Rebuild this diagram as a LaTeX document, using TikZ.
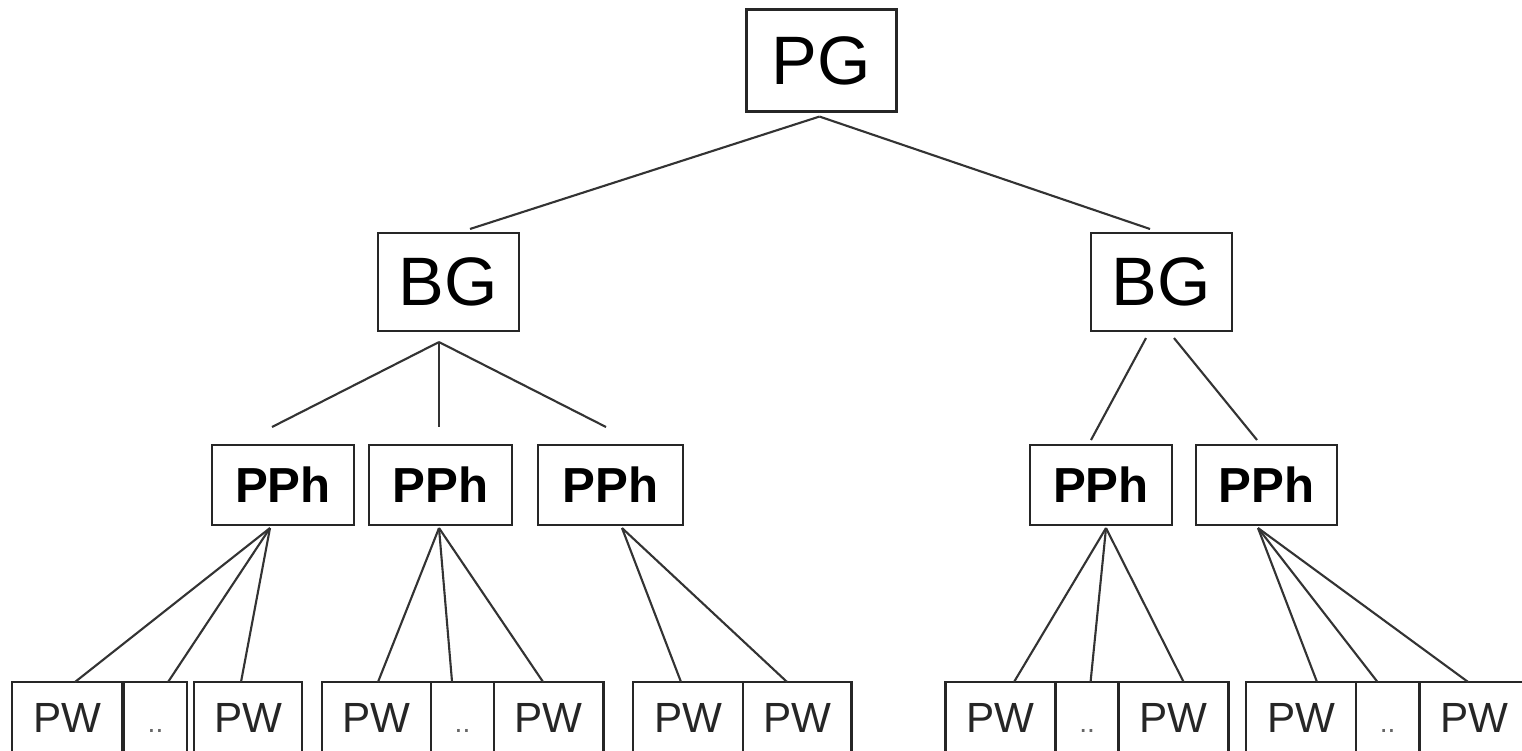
\documentclass[tikz,border=0pt]{standalone}
\usepackage{fontspec}
\setsansfont{Liberation Sans}
\usetikzlibrary{positioning}
\usetikzlibrary{calc}
\tikzset{
  box/.style={draw=black!85, line width=0.8pt, inner sep=0pt, outer sep=0pt},
  big/.style={box, font=\sffamily\fontsize{19.5}{20}\selectfont},
  phr/.style={box, minimum width=1.42cm, minimum height=0.8cm, font=\sffamily\bfseries\fontsize{14}{15}\selectfont},
  pw/.style={box, minimum width=1.1cm, minimum height=0.7cm, text height=0.31cm, text depth=0pt, text=black!85, font=\sffamily\fontsize{12}{13}\selectfont},
  dots/.style={pw, minimum width=0.63cm, text=black!60, font=\sffamily\fontsize{8}{9}\selectfont},
  link/.style={draw=black!80, line width=0.6pt}
}

\begin{document}
\begin{tikzpicture}[x=0.01cm, y=-0.01cm]
    \path [fill=white] (0,0) rectangle (1522,750);
    \useasboundingbox (0,0) rectangle (1522,750);

    % upper levels
    \node [big, minimum width=1.5cm, minimum height=1.02cm] (pg) at (821.5,60.5) {PG};
    \node [big, minimum width=1.41cm, minimum height=0.98cm] (bg_l) at (448.5,282) {BG};
    \node [big, minimum width=1.41cm, minimum height=0.98cm] (bg_r) at (1161.5,282) {BG};

    \node [phr] (pph_l1) at (283,485) {PPh};
    \node [phr, minimum width=1.43cm] (pph_l2) at (440.5,485) {PPh};
    \node [phr, minimum width=1.45cm] (pph_l3) at (610.5,485) {PPh};
    \node [phr] (pph_r1) at (1101,485) {PPh};
    \node [phr, minimum width=1.41cm] (pph_r2) at (1266.5,485) {PPh};

    % word row
    \node [pw] (pw_a1) at (67,717) {PW};
    \node [dots, right=0.02cm of pw_a1] (dots_a) {..};
    \node [pw, minimum width=1.08cm] (pw_a2) at (248,717) {PW};

    \node [pw, minimum width=1.09cm] (pw_b1) at (376.5,717) {PW};
    \node [dots, right=0cm of pw_b1] (dots_b) {..};
    \node [pw, minimum width=1.09cm, right=0cm of dots_b] (pw_b2) {PW};

    \node [pw] (pw_c1) at (688,717) {PW};
    \node [pw, minimum width=1.08cm, right=0cm of pw_c1] (pw_c2) {PW};

    \node [pw] (pw_d1) at (1000.5,717) {PW};
    \node [dots, right=0cm of pw_d1] (dots_d) {..};
    \node [pw, right=0cm of dots_d] (pw_d2) {PW};

    \node [pw] (pw_e1) at (1301,717) {PW};
    \node [dots, right=0cm of pw_e1] (dots_e) {..};
    \node [pw, right=0cm of dots_e] (pw_e2) {PW};

    % junctions under the boxes
    \coordinate (j_pg) at ($(pg.south)+(-2,5)$);
    \coordinate (j_bgl) at ($(bg_l.south)+(-9.5,11)$);
    \coordinate (j_l1) at ($(pph_l1.south)+(-13,3)$);
    \coordinate (j_l2) at ($(pph_l2.south)+(-1.5,3)$);
    \coordinate (j_l3) at ($(pph_l3.south)+(11.5,3)$);
    \coordinate (j_r1) at ($(pph_r1.south)+(5,3)$);
    \coordinate (j_r2) at ($(pph_r2.south)+(-8.5,3)$);

    \draw [link] (j_pg) -- ($(bg_l.north)+(21.5,-4)$);
    \draw [link] (j_pg) -- ($(bg_r.north)+(-11.5,-4)$);

    \foreach \dst/\ex in {pph_l1/-11, pph_l2/-1.5, pph_l3/-4.5}
        \draw [link] (j_bgl) -- ($(\dst.north)+(\ex,-18)$);
    \draw [link] ($(bg_r.south)+(-15.5,7)$) -- ($(pph_r1.north)+(-10,-5)$);
    \draw [link] ($(bg_r.south)+(12.5,7)$) -- ($(pph_r2.north)+(-9.5,-5)$);

    \foreach \dst/\ex in {pw_a1/8, dots_a/12.5, pw_a2/-7}
        \draw [link] (j_l1) -- ($(\dst.north)+(\ex,0)$);
    \foreach \dst/\ex in {pw_b1/1.5, dots_b/-10.5, pw_b2/-5.5}
        \draw [link] (j_l2) -- ($(\dst.north)+(\ex,0)$);
    \foreach \dst/\ex in {pw_c1/-7, pw_c2/-10}
        \draw [link] (j_l3) -- ($(\dst.north)+(\ex,0)$);
    \foreach \dst/\ex in {pw_d1/13.5, dots_d/3.5, pw_d2/10}
        \draw [link] (j_r1) -- ($(\dst.north)+(\ex,0)$);
    \foreach \dst/\ex in {pw_e1/16, dots_e/-10, pw_e2/-6}
        \draw [link] (j_r2) -- ($(\dst.north)+(\ex,0)$);

\end{tikzpicture}
\end{document}
